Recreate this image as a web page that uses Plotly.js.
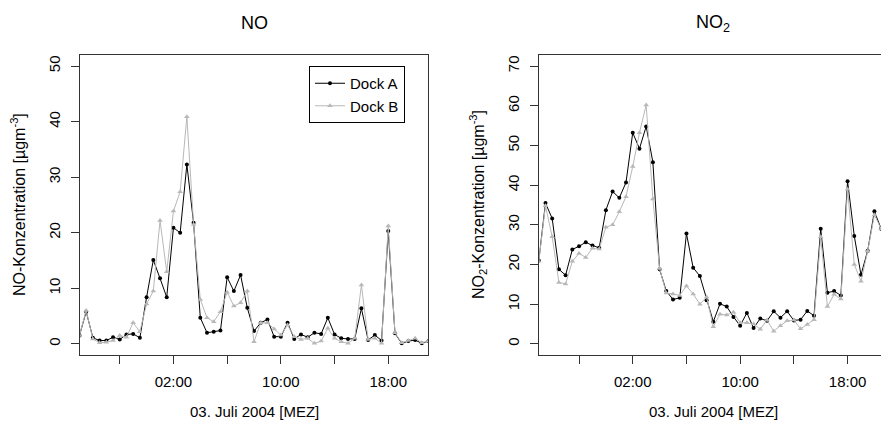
<!DOCTYPE html>
<html>
<head>
<meta charset="utf-8">
<script src="https://cdn.plot.ly/plotly-3.0.1.min.js"></script>
<style>
html, body { margin: 0; padding: 0; overflow: hidden; background: #fff; }
#chart { width: 890px; height: 430px; }
</style>
</head>
<body>
<div id="chart"></div>
<script>
// Time in hours relative to 03. Juli 2004 00:00 (half-hourly)
const hours = [-5,-4.5,-4,-3.5,-3,-2.5,-2,-1.5,-1,-0.5,0,0.5,1,1.5,2,2.5,3,3.5,4,4.5,5,5.5,6,6.5,7,7.5,8,8.5,9,9.5,10,10.5,11,11.5,12,12.5,13,13.5,14,14.5,15,15.5,16,16.5,17,17.5,18,18.5,19,19.5,20,20.5,21];

const noDockA = [1.5,5.8,1.1,0.6,0.6,1.2,0.8,1.7,1.8,1.1,8.4,15.1,11.8,8.4,20.9,20.0,32.3,21.8,4.7,2.0,2.2,2.4,12.0,9.5,12.4,6.5,2.3,3.8,4.4,1.3,1.3,3.8,0.9,1.7,1.2,2.0,1.8,4.7,1.7,1.0,0.9,0.9,6.4,0.7,1.6,0.6,20.3,1.9,0.1,0.5,0.7,0.1,0.5];
const noDockB = [1.5,6.0,0.9,0.2,0.3,0.6,1.5,1.2,3.8,2.2,7.2,9.5,22.2,13.0,23.9,27.4,40.9,21.5,8.0,4.7,4.0,5.8,9.3,6.8,7.4,9.5,0.4,3.8,3.8,2.7,1.6,3.4,1.3,0.8,1.0,0.1,0.5,2.8,1.0,0.4,0.1,1.0,10.6,0.8,1.0,0.1,21.2,2.0,0.2,0.6,1.0,0.2,0.5];

const no2DockA = [21.0,35.5,31.6,18.8,17.3,23.8,24.6,25.6,24.8,24.2,33.7,38.4,36.8,40.7,53.2,49.2,54.8,45.8,18.8,13.3,11.2,11.6,27.8,19.2,17.1,11.0,5.6,10.1,9.4,6.8,4.6,7.8,4.0,6.4,5.8,8.2,6.6,8.2,5.9,6.1,8.3,7.1,29.0,12.9,13.3,12.2,41.0,27.2,17.4,23.5,33.4,29.0,27.0];
const no2DockB = [20.8,34.8,27.0,15.5,15.1,20.8,22.8,21.8,24.1,23.9,29.4,30.0,33.3,37.1,44.7,53.2,60.2,36.5,19.0,12.8,12.6,12.2,14.6,12.6,10.0,11.8,4.3,7.5,7.3,8.0,5.3,5.3,5.0,3.7,6.0,3.2,4.6,5.8,6.0,3.8,4.9,6.1,27.0,9.4,12.5,11.3,39.0,20.0,15.8,23.4,32.5,29.0,27.0];

const tickHours = [-2,2,6,10,14,18];
const tickLabels = ['','02:00','','10:00','','18:00'];
const noTicks = [0,10,20,30,40,50];
const no2Ticks = [0,10,20,30,40,50,60,70];

const seriesNames = ['Dock A','Dock B'];

const W = 890, H = 430;
const FONT = 'Liberation Sans, Arial, sans-serif';
const colA = '#000000', colB = '#b8b8b8';

function px(x){ return x / W; }
function py(y){ return 1 - y / H; }

function trace(x, y, name, color, symbol, xa, ya, show) {
  return {
    x: x, y: y, name: name, type: 'scatter', mode: 'lines+markers',
    xaxis: xa, yaxis: ya, showlegend: show,
    line: {color: color, width: 1},
    marker: {color: color, size: symbol === 'circle' ? 4 : 5, symbol: symbol},
    cliponaxis: true
  };
}

const data = [
  trace(hours, noDockA, seriesNames[0], colA, 'circle', 'x', 'y', true),
  trace(hours, noDockB, seriesNames[1], colB, 'triangle-up', 'x', 'y', true),
  trace(hours, no2DockA, seriesNames[0], colA, 'circle', 'x2', 'y2', false),
  trace(hours, no2DockB, seriesNames[1], colB, 'triangle-up', 'x2', 'y2', false)
];

function xax(domain) {
  return {
    domain: domain, range: [-4.96, 20.96], showgrid: false, zeroline: false,
    showline: true, mirror: true, linecolor: '#333', linewidth: 1,
    ticks: 'outside', ticklen: 8, tickcolor: '#333', tickwidth: 1,
    tickvals: tickHours, ticktext: tickLabels, ticklabelstandoff: 5,
    tickfont: {family: FONT, size: 15, color: '#000'}
  };
}
function yax(domain, range, ticks, anchor) {
  return {
    domain: domain, range: range, showgrid: false, zeroline: false,
    showline: true, mirror: true, linecolor: '#333', linewidth: 1,
    ticks: 'outside', ticklen: 8, tickcolor: '#333', tickwidth: 1,
    tickvals: ticks, tickangle: -90, anchor: anchor, ticklabelstandoff: 5,
    tickfont: {family: FONT, size: 15, color: '#000'}
  };
}

const yDom = [py(355), py(55)];

function ann(text, x, y, size, angle) {
  return {text: text, x: px(x), y: py(y), xref: 'paper', yref: 'paper',
          xanchor: 'center', yanchor: 'middle', showarrow: false,
          textangle: angle || 0, font: {family: FONT, size: size, color: '#000'}};
}

const layout = {
  width: W, height: H,
  margin: {l: 0, r: 0, t: 0, b: 0},
  paper_bgcolor: '#fff', plot_bgcolor: '#fff',
  font: {family: FONT, size: 15, color: '#000'},
  xaxis: Object.assign(xax([px(80), px(428)]), {anchor: 'y'}),
  yaxis: yax(yDom, [-2, 52], noTicks, 'x'),
  xaxis2: Object.assign(xax([px(539.3), px(887.3)]), {anchor: 'y2'}),
  yaxis2: yax(yDom, [-2.8, 72.8], no2Ticks, 'x2'),
  showlegend: true,
  legend: {
    x: px(405), xanchor: 'right', y: py(66), yanchor: 'top',
    bordercolor: '#000', borderwidth: 1, bgcolor: '#fff',
    font: {family: FONT, size: 15, color: '#000'},
    tracegroupgap: 0
  },
  annotations: [
    ann('NO', 254, 23, 18),
    ann('NO<sub>2</sub>', 713, 23, 18),
    ann('03. Juli 2004 [MEZ]', 254, 411, 15),
    ann('03. Juli 2004 [MEZ]', 713, 411, 15),
    ann('NO-Konzentration [µgm<sup>-3</sup>]', 18, 205, 16, -90),
    ann('NO<sub>2</sub>-Konzentration [µgm<sup>-3</sup>]', 478, 205, 16, -90)
  ]
};

Plotly.newPlot('chart', data, layout, {displayModeBar: false, staticPlot: true});
</script>
</body>
</html>
